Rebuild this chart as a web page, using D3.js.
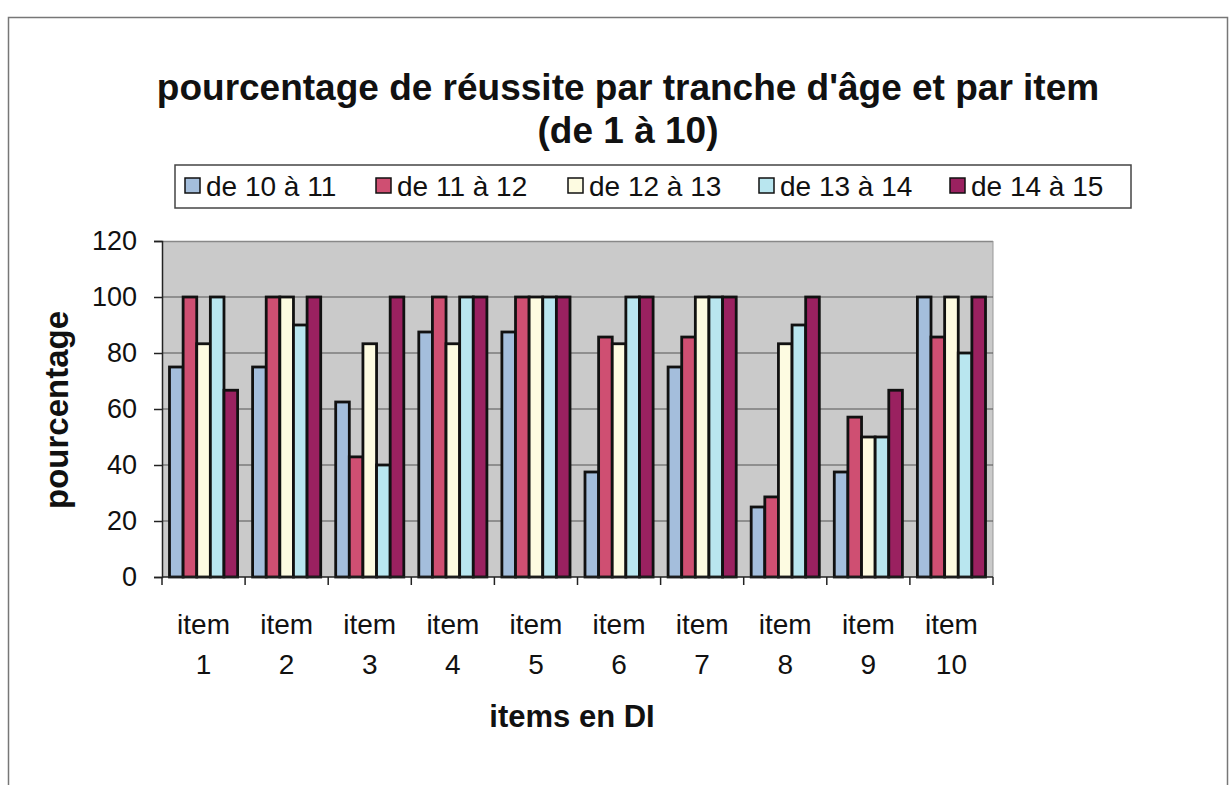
<!DOCTYPE html>
<html><head><meta charset="utf-8">
<script src="https://cdn.jsdelivr.net/npm/d3@7"></script>
<style>body{margin:0;background:#fff}svg{display:block}text{font-family:"Liberation Sans",Arial,sans-serif}</style>
</head><body><svg id="c" width="1231" height="785"></svg>
<script>
const categories = ["item 1","item 2","item 3","item 4","item 5","item 6","item 7","item 8","item 9","item 10"];
const seriesNames = ["de 10 à 11","de 11 à 12","de 12 à 13","de 13 à 14","de 14 à 15"];
const s1 = [75, 75, 62.5, 87.5, 87.5, 37.5, 75, 25, 37.5, 100];
const s2 = [100, 100, 42.9, 100, 100, 85.7, 85.7, 28.6, 57.1, 85.7];
const s3 = [83.3, 100, 83.3, 83.3, 100, 83.3, 100, 83.3, 50, 100];
const s4 = [100, 90, 40, 100, 100, 100, 100, 90, 50, 80];
const s5 = [66.7, 100, 100, 100, 100, 100, 100, 100, 66.7, 100];
const yTicks = [0,20,40,60,80,100,120];
const colors = ["#a4bedc","#cf4f72","#fdfbe1","#b9e6ef","#9a2160"];
const series = [s1,s2,s3,s4,s5];

const svg = d3.select("#c");
svg.append("path").attr("d","M8.5,785 V17.5 H1227.5 V785").attr("fill","none").attr("stroke","#777").attr("stroke-width",1.5);

const L=162, R=993, T=241, B=577;
const x = d3.scaleBand().domain(categories).range([L,R]);
const y = d3.scaleLinear().domain([0,120]).range([B,T]);
const inner = d3.scaleBand().domain(d3.range(5)).range([0, x.bandwidth()]).paddingOuter(0.55).paddingInner(0);

svg.append("rect").attr("x",L).attr("y",T).attr("width",R-L).attr("height",B-T).attr("fill","#cacaca");
svg.append("line").attr("x1",L).attr("x2",R).attr("y1",T+0.5).attr("y2",T+0.5).attr("stroke","#888").attr("stroke-width",1.5);
svg.append("line").attr("x1",R).attr("x2",R).attr("y1",T).attr("y2",B).attr("stroke","#999").attr("stroke-width",1);
svg.append("g").selectAll("line").data(yTicks.filter(d=>d>0 && d<120)).join("line")
  .attr("x1",L).attr("x2",R).attr("y1",d=>y(d)).attr("y2",d=>y(d)).attr("stroke","#555").attr("stroke-width",1.2);

categories.forEach((c,i)=>{
  series.forEach((s,j)=>{
    svg.append("rect")
      .attr("x", x(c)+inner(j)).attr("y", y(s[i]))
      .attr("width", inner.bandwidth()).attr("height", B - y(s[i]))
      .attr("fill", colors[j]).attr("stroke","#111").attr("stroke-width",2.8);
  });
});

const yAxis = d3.axisLeft(y).tickValues(yTicks).tickSize(8).tickPadding(17);
const gy = svg.append("g").attr("transform",`translate(${L},0)`).call(yAxis);
gy.select(".domain").attr("stroke","#222").attr("stroke-width",1.5);
gy.selectAll(".tick line").attr("stroke","#222").attr("stroke-width",1.5);
gy.selectAll("text").attr("font-size",27).attr("fill","#111").attr("font-family","Liberation Sans, Arial, sans-serif");

const gx = svg.append("g").attr("transform",`translate(0,${B})`);
gx.append("line").attr("x1",L).attr("x2",R).attr("y1",0).attr("y2",0).attr("stroke","#222").attr("stroke-width",1.5);
gx.selectAll("line.t").data(d3.range(11)).join("line").attr("class","t")
  .attr("x1",d=>L+d*x.step()).attr("x2",d=>L+d*x.step()).attr("y1",0).attr("y2",8).attr("stroke","#222").attr("stroke-width",1.5);
categories.forEach(c=>{
  const parts = c.split(" ");
  const t = gx.append("text").attr("x",x(c)+x.bandwidth()/2).attr("text-anchor","middle").attr("font-size",28).attr("fill","#111");
  t.append("tspan").attr("x",x(c)+x.bandwidth()/2).attr("y",57).text(parts[0]);
  t.append("tspan").attr("x",x(c)+x.bandwidth()/2).attr("y",97).text(parts[1]);
});

svg.append("text").attr("x",628).attr("y",100).attr("text-anchor","middle").attr("font-size",37).attr("font-weight","bold").attr("fill","#111")
  .text("pourcentage de réussite par tranche d'âge et par item");
svg.append("text").attr("x",628).attr("y",143).attr("text-anchor","middle").attr("font-size",37).attr("font-weight","bold").attr("fill","#111")
  .text("(de 1 à 10)");
svg.append("text").attr("x",572).attr("y",727).attr("text-anchor","middle").attr("font-size",31).attr("font-weight","bold").attr("fill","#111")
  .text("items en DI");
svg.append("text").attr("transform","translate(68,410) rotate(-90)").attr("text-anchor","middle").attr("font-size",33).attr("font-weight","bold").attr("fill","#111")
  .text("pourcentage");

const lg = svg.append("g");
lg.append("rect").attr("x",175).attr("y",165).attr("width",956).attr("height",43).attr("fill","#fff").attr("stroke","#444").attr("stroke-width",1.5);
const lx = [185, 376, 568, 759, 950];
seriesNames.forEach((n,i)=>{
  lg.append("rect").attr("x",lx[i]).attr("y",178).attr("width",15).attr("height",15).attr("fill",colors[i]).attr("stroke","#111").attr("stroke-width",1.5);
  lg.append("text").attr("x",lx[i]+21).attr("y",196).attr("font-size",28).attr("fill","#111").text(n);
});
</script></body></html>
